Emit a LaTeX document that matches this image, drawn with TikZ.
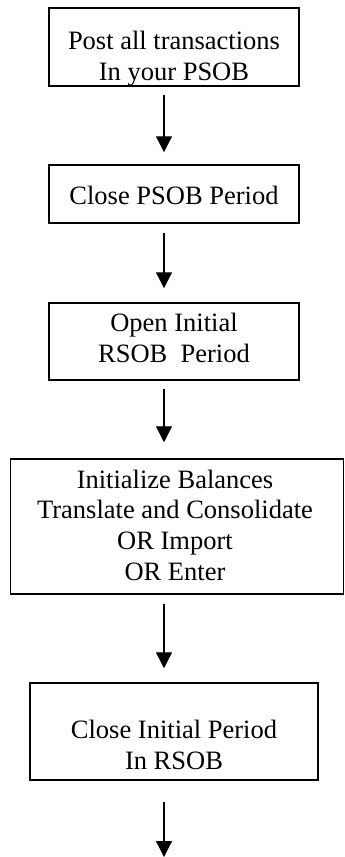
\documentclass[tikz,border=0pt]{standalone}
\usepackage{fontspec}
\setmainfont{Liberation Serif}
\usetikzlibrary{arrows.meta}
\begin{document}
\begin{tikzpicture}[x=1pt,y=1pt,
  framebox/.style={draw=black,line width=1.5pt,rectangle,inner sep=0pt},
  lbl/.style={inner sep=0pt,align=center,font=\fontsize{26.5}{30.6}\selectfont,anchor=base},
  flow/.style={line width=1.3pt,-{Triangle[length=16pt,width=16pt]}}]
\useasboundingbox (0,0) rectangle (345,-857);
\coordinate (ax) at (164,0);
\node[framebox,minimum width=250pt,minimum height=78pt] (b1) at (174,-47) {};
\node[framebox,minimum width=250pt,minimum height=58pt] (b2) at (174,-194) {};
\node[framebox,minimum width=250pt,minimum height=77pt] (b3) at (174,-341.5) {};
\node[framebox,minimum width=333pt,minimum height=135pt] (b4) at (177,-526.5) {};
\node[framebox,minimum width=288pt,minimum height=97pt] (b5) at (174,-731.5) {};
\node[lbl] (t1) at (174,-80) {Post all transactions\\In your PSOB};
\node[lbl] (t2) at (174,-204) {Close PSOB Period};
\node[lbl] (t3) at (174,-362) {Open Initial\\RSOB\ \ Period};
\node[lbl] (t4) at (175,-580) {Initialize Balances\\Translate and Consolidate\\OR Import\\OR Enter};
\node[lbl] (t5) at (174,-769) {Close Initial Period\\In RSOB};
\coordinate (end) at (164,-857);
\draw[flow,shorten <=8pt,shorten >=12pt] (b1.south -| ax) -- (b2.north -| ax);
\draw[flow,shorten <=9pt,shorten >=14pt] (b2.south -| ax) -- (b3.north -| ax);
\draw[flow,shorten <=8pt,shorten >=16pt] (b3.south -| ax) -- (b4.north -| ax);
\draw[flow,shorten <=9pt,shorten >=14pt] (b4.south -| ax) -- (b5.north -| ax);
\draw[flow,shorten <=21pt] (b5.south -| ax) -- (end);
\end{tikzpicture}
\end{document}
